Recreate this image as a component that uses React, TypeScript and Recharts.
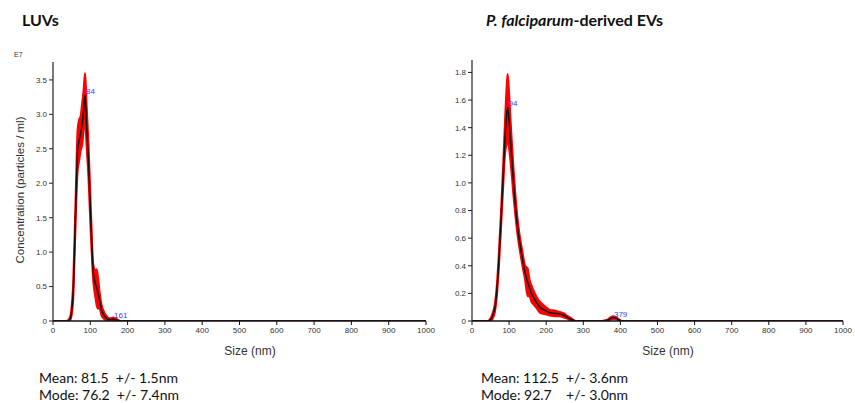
import React from 'react';
import { ComposedChart, Area, Line, Scatter, XAxis, YAxis } from 'recharts';

// ---- LUVs ----
const leftSize = [0, 35, 42, 47, 51, 54, 58, 62, 66, 70, 74, 78, 82, 86, 90, 95, 101, 108, 113, 117, 121, 125, 130, 137, 144, 150, 155, 161, 167, 173, 180, 1000];
const leftMean = [0, 0, 0.01, 0.05, 0.2, 0.41, 1.1, 1.86, 2.48, 2.62, 2.72, 2.85, 3.05, 3.28, 2.85, 2.34, 1.51, 0.7, 0.55, 0.49, 0.4, 0.3, 0.16, 0.08, 0.04, 0.02, 0.02, 0.03, 0.02, 0.01, 0, 0];
const leftErr = [0, 0, 0.01, 0.03, 0.08, 0.12, 0.15, 0.2, 0.3, 0.3, 0.25, 0.3, 0.3, 0.32, 0.3, 0.25, 0.2, 0.12, 0.18, 0.26, 0.22, 0.12, 0.08, 0.05, 0.03, 0.02, 0.02, 0.02, 0.02, 0.01, 0, 0];
const leftPeakSizes = [86, 161];
const leftPeakValues = [3.28, 0.03];
const leftPeakTexts = ['84', '161'];
const leftYTicks = [0, 0.5, 1.0, 1.5, 2.0, 2.5, 3.0, 3.5];

// ---- P. falciparum EVs ----
const rightSize = [0, 42, 50, 56, 62, 67, 72, 78, 84, 89, 93, 96, 100, 104, 108, 112, 116, 122, 129, 136, 143, 150, 155, 160, 166, 175, 183, 195, 210, 225, 237, 248, 258, 268, 280, 350, 365, 373, 380, 388, 396, 405, 1000];
const rightMean = [0, 0, 0.01, 0.04, 0.1, 0.22, 0.42, 0.72, 1.05, 1.33, 1.48, 1.55, 1.45, 1.3, 1.15, 1.0, 0.87, 0.7, 0.56, 0.45, 0.35, 0.28, 0.24, 0.2, 0.17, 0.13, 0.1, 0.08, 0.06, 0.055, 0.05, 0.04, 0.025, 0.01, 0, 0, 0.005, 0.018, 0.025, 0.02, 0.008, 0, 0];
const rightErr = [0, 0, 0.01, 0.02, 0.03, 0.04, 0.05, 0.06, 0.08, 0.12, 0.2, 0.24, 0.2, 0.15, 0.12, 0.1, 0.08, 0.06, 0.05, 0.05, 0.05, 0.1, 0.06, 0.06, 0.05, 0.04, 0.04, 0.03, 0.02, 0.02, 0.015, 0.015, 0.01, 0.01, 0, 0, 0.004, 0.008, 0.01, 0.008, 0.004, 0, 0];
const rightPeakSizes = [96, 380];
const rightPeakValues = [1.55, 0.025];
const rightPeakTexts = ['94', '379'];
const rightYTicks = [0, 0.2, 0.4, 0.6, 0.8, 1.0, 1.2, 1.4, 1.6, 1.8];

const xTicks = [0, 100, 200, 300, 400, 500, 600, 700, 800, 900, 1000];

const buildData = (sizes: number[], mean: number[], err: number[]) =>
  sizes.map((s, i) => ({ size: s, mean: mean[i], band: [Math.max(0, mean[i] - err[i]), mean[i] + err[i]] }));

const buildPeaks = (sizes: number[], values: number[], texts: string[]) =>
  sizes.map((s, i) => ({ size: s, value: values[i], text: texts[i] }));

const leftData = buildData(leftSize, leftMean, leftErr);
const rightData = buildData(rightSize, rightMean, rightErr);
const leftPeaks = buildPeaks(leftPeakSizes, leftPeakValues, leftPeakTexts);
const rightPeaks = buildPeaks(rightPeakSizes, rightPeakValues, rightPeakTexts);

const FONT = '"Liberation Sans", Arial, sans-serif';
const TITLE_FONT = 'Lato, "Open Sans", sans-serif';

const PeakLabel = (p: any) => (
  <text x={p.cx + 1} y={p.cy - 1} fontSize={8} fill="#3a3aff" fontFamily={FONT}>
    {p.payload.text}
  </text>
);

const fmt = (v: number) => (v === 0 ? '0' : v.toFixed(1));

function Panel(props: { data: any[]; peaks: any[]; yTicks: number[]; yMax: number; width: number; top: number; right: number; yWidth: number }) {
  const { data, peaks, yTicks, yMax, width, top, right, yWidth } = props;
  return (
    <ComposedChart width={width} height={360} data={data} margin={{ top, right, bottom: 19, left: 0 }}>
      <XAxis
        type="number"
        dataKey="size"
        domain={[0, 1000]}
        ticks={xTicks}
        interval={0}
        allowDataOverflow
        height={20}
        tickSize={4}
        tick={{ fontSize: 8, fill: '#333', fontFamily: FONT }}
        axisLine={{ stroke: '#111', strokeWidth: 1.6 }}
        tickLine={{ stroke: '#111' }}
      />
      <YAxis
        type="number"
        domain={[0, yMax]}
        ticks={yTicks}
        interval={0}
        allowDataOverflow
        width={yWidth}
        tickSize={4}
        tickFormatter={fmt}
        tick={{ fontSize: 8, fill: '#333', fontFamily: FONT }}
        axisLine={{ stroke: '#222', strokeWidth: 1.2 }}
        tickLine={{ stroke: '#222' }}
      />
      <Area
        type="monotone"
        dataKey="band"
        stroke="#ff0000"
        strokeWidth={2}
        fill="#ff0000"
        fillOpacity={1}
        dot={false}
        activeDot={false}
        isAnimationActive={false}
      />
      <Line type="monotone" dataKey="mean" stroke="#111" strokeWidth={1.5} dot={false} activeDot={false} isAnimationActive={false} />
      <Scatter data={peaks} dataKey="value" shape={PeakLabel} isAnimationActive={false} />
    </ComposedChart>
  );
}

export default function App() {
  const abs = (s: React.CSSProperties): React.CSSProperties => ({ position: 'absolute', whiteSpace: 'pre', ...s });
  return (
    <div style={{ position: 'absolute', left: 0, top: 0, width: 855, height: 403, background: '#fff', overflow: 'hidden', fontFamily: FONT }}>
      <div style={abs({ left: 0, top: 0 })}>
        <Panel data={leftData} peaks={leftPeaks} yTicks={leftYTicks} yMax={3.76} width={442} top={62} right={16} yWidth={53} />
      </div>
      <div style={abs({ left: 430, top: 0 })}>
        <Panel data={rightData} peaks={rightPeaks} yTicks={rightYTicks} yMax={1.89} width={425} top={60} right={12} yWidth={42} />
      </div>

      <div style={abs({ left: 22, top: 10, fontFamily: TITLE_FONT, fontWeight: 700, fontSize: 16, color: '#111' })}>LUVs</div>
      <div style={abs({ left: 486, top: 10, fontFamily: TITLE_FONT, fontWeight: 700, fontSize: 16, color: '#111' })}>
        <i>P. falciparum</i>-derived EVs
      </div>

      <div style={abs({ left: 14, top: 51, fontSize: 7, color: '#333' })}>E7</div>
      <div style={abs({ left: 20, top: 190, width: 0, height: 0 })}>
        <div style={{ position: 'absolute', transform: 'translate(-50%, -50%) rotate(-90deg)', fontSize: 11.5, color: '#333', whiteSpace: 'pre' }}>
          Concentration (particles / ml)
        </div>
      </div>
      <div style={abs({ left: 250, top: 351, width: 0, height: 0 })}>
        <div style={{ position: 'absolute', transform: 'translate(-50%, -50%)', fontSize: 12, color: '#333', whiteSpace: 'pre' }}>Size (nm)</div>
      </div>
      <div style={abs({ left: 668, top: 351, width: 0, height: 0 })}>
        <div style={{ position: 'absolute', transform: 'translate(-50%, -50%)', fontSize: 12, color: '#333', whiteSpace: 'pre' }}>Size (nm)</div>
      </div>

      <div style={abs({ left: 39, top: 369, fontFamily: TITLE_FONT, fontSize: 14, lineHeight: '17px', color: '#111' })}>
        {'Mean: 81.5  +/- 1.5nm\nMode: 76.2  +/- 7.4nm'}
      </div>
      <div style={abs({ left: 481, top: 369, fontFamily: TITLE_FONT, fontSize: 14, lineHeight: '17px', color: '#111' })}>
        {'Mean: 112.5  +/- 3.6nm\nMode: 92.7    +/- 3.0nm'}
      </div>
    </div>
  );
}
